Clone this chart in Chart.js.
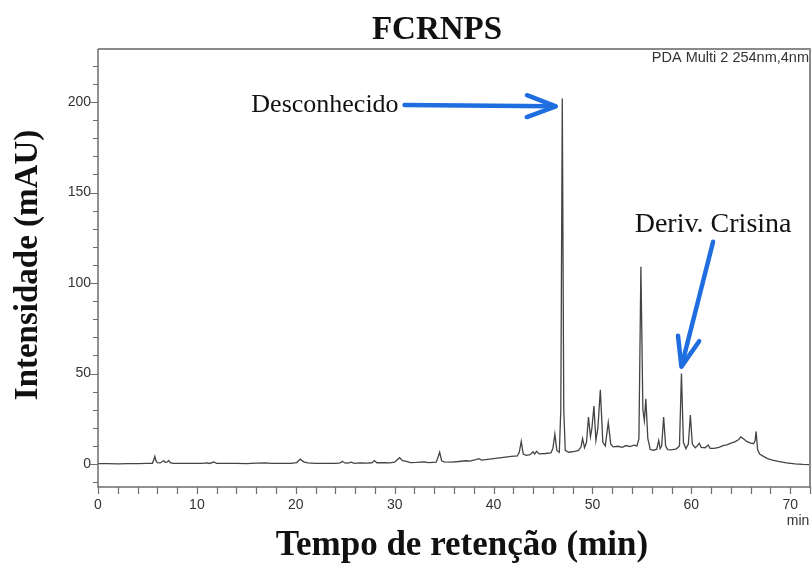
<!DOCTYPE html>
<html>
<head>
<meta charset="utf-8">
<script src="https://cdn.jsdelivr.net/npm/chart.js@4.4.1/dist/chart.umd.min.js"></script>
<style>
html, body { margin: 0; padding: 0; background: #fff; }
</style>
</head>
<body>
<canvas id="chart" width="812" height="568"></canvas>
<script>
// Chromatogram trace: retention time (min) / intensity (mAU)
const retTime = [
  0, 1, 2, 3, 4, 5, 5.5, 5.65, 5.75, 5.85, 6.0, 6.3, 6.5, 6.65, 6.8, 7.0, 7.15, 7.3, 7.6,
  8.5, 9.5, 10.5, 11.0, 11.3, 11.7, 12.0, 13, 14, 15, 16, 17, 17.5, 18.5, 19.5,
  20.1, 20.45, 20.8, 21.2, 22, 23, 24, 24.5, 24.7, 24.95, 25.3, 25.6, 25.9, 26.5, 27.2,
  27.7, 27.95, 28.2, 29, 29.5, 30.0, 30.3, 30.5, 30.8, 31.2, 31.6, 32.2, 33.0, 33.4,
  34.2, 34.4, 34.55, 34.75, 35.0, 35.8, 36.5, 37.2, 37.6, 38.2, 38.5, 38.8, 39.4,
  40.0, 40.6, 41.2, 41.8, 42.4, 42.6, 42.8, 43.0, 43.3, 43.7, 44.0, 44.15, 44.35, 44.6,
  45.2, 45.8, 46.0, 46.2, 46.4, 46.65, 46.8, 46.95, 47.1, 47.25, 47.6, 48.2, 48.6,
  48.85, 49.0, 49.2, 49.4, 49.6, 49.8, 49.95, 50.15, 50.35, 50.55, 50.8, 51.05, 51.3,
  51.6, 51.85, 52.1, 52.6, 53.0, 53.4, 53.8, 54.2, 54.5, 54.7, 54.9, 55.1, 55.25, 55.4,
  55.6, 55.85, 56.2, 56.5, 56.7, 56.85, 57.0, 57.2, 57.4, 57.6, 58.0, 58.5, 58.8, 59.0,
  59.2, 59.45, 59.7, 59.9, 60.1, 60.4, 60.6, 60.8, 61.0, 61.4, 61.7, 61.9, 62.3, 62.8,
  63.2, 63.6, 64.0, 64.4, 64.8, 65.0, 65.3, 65.6, 66.0, 66.3, 66.45, 66.55, 66.7, 66.9,
  67.3, 67.7, 68.2, 68.8, 69.6, 70.5, 71.3, 72
];
const intensity = [
  0.2, 0.2, 0.1, 0.2, 0.2, 0.3, 0.4, 2.5, 4.2, 2.0, 0.8, 0.6, 1.4, 1.8, 0.9, 1.2, 2.0, 0.8, 0.4,
  0.3, 0.4, 0.3, 0.6, 0.3, 1.2, 0.4, 0.3, 0.4, 0.2, 0.5, 0.6, 0.3, 0.4, 0.3,
  0.8, 2.7, 1.2, 0.6, 0.4, 0.3, 0.4, 0.6, 1.5, 0.6, 0.5, 1.0, 0.4, 0.6, 0.5,
  0.7, 1.9, 0.7, 0.8, 0.6, 1.0, 2.5, 3.5, 1.8, 1.4, 0.8, 0.9, 1.2, 0.8,
  1.0, 4.0, 6.5, 1.8, 1.2, 1.0, 1.4, 1.8, 1.6, 2.4, 3.0, 2.2, 2.6,
  3.0, 3.4, 3.8, 4.2, 4.5, 6.5, 12.5, 5.5, 4.8, 5.2, 6.8, 5.5, 7.0, 5.6,
  5.8, 6.2, 8.5, 16.5, 7.5, 6.5, 30, 202, 30, 7.5, 6.5, 7.0, 7.5,
  9.5, 14, 9.0, 12, 26, 15, 20, 32, 13, 20, 41, 12, 10,
  23, 11, 9.5, 9.8, 9.2, 10.2, 9.6, 10.4, 10.0, 14, 109, 30, 24, 36,
  14, 8.0, 7.6, 8.2, 13, 8.5, 10, 26, 10, 8.0, 7.8, 8.4, 10, 50,
  12, 8.5, 11, 27, 11, 9.0, 10, 11.5, 9.2, 9.0, 10.5, 8.6, 8.6, 9.2,
  10.2, 10.6, 11.5, 12.2, 13.5, 15, 13.8, 12.5, 11.5, 11.2, 13, 18, 8, 5.5,
  4.2, 3.0, 2.2, 1.4, 0.6, 0.1, -0.2, -0.3
];

// Axis ticks
const xTickValues = [0, 2, 4, 6, 8, 10, 12, 14, 16, 18, 20, 22, 24, 26, 28, 30, 32, 34,
  36, 38, 40, 42, 44, 46, 48, 50, 52, 54, 56, 58, 60, 62, 64, 66, 68, 70, 72];
const xTickLabels = [0, 10, 20, 30, 40, 50, 60, 70];
const yTickValues = [-10, 0, 10, 20, 30, 40, 50, 60, 70, 80, 90, 100, 110, 120, 130, 140,
  150, 160, 170, 180, 190, 200, 210, 220];
const yTickLabels = [0, 50, 100, 150, 200];

// Annotations (data units: min, mAU)
const peakNames = ['Desconhecido', 'Deriv. Crisina'];
const labelAt = [[30.4, 198], [62.2, 132.5]];
const arrowFrom = [[31.0, 198.3], [62.2, 122.8]];
const arrowTo = [[46.3, 197.6], [59.0, 53.8]];

const AXIS_COLOR = '#6e6e6e';
const FRAME_COLOR = '#8a8a8a';
const ARROW_BLUE = '#1f6ee0';
const SERIF = "'Liberation Serif', 'Times New Roman', serif";
const NARROW = "'Liberation Sans Narrow', 'Arial Narrow', 'Liberation Sans', Arial, sans-serif";

function drawArrow(ctx, x1, y1, x2, y2) {
    const ang = Math.atan2(y2 - y1, x2 - x1);
    const head = 31;
    const spread = 0.36;
    ctx.beginPath();
    ctx.moveTo(x1, y1);
    ctx.lineTo(x2 - Math.cos(ang) * 4, y2 - Math.sin(ang) * 4);
    ctx.stroke();
    ctx.beginPath();
    ctx.moveTo(x2 - head * Math.cos(ang - spread), y2 - head * Math.sin(ang - spread));
    ctx.lineTo(x2, y2);
    ctx.lineTo(x2 - head * Math.cos(ang + spread), y2 - head * Math.sin(ang + spread));
    ctx.stroke();
}

// Axes, tick marks, frame, titles and the blue annotations
const decorPlugin = {
    id: 'decor',
    afterDraw(chart) {
        const { ctx, chartArea: { top, bottom, left, right }, scales: { x, y } } = chart;

        ctx.save();
        // frame top/right
        ctx.strokeStyle = FRAME_COLOR;
        ctx.lineWidth = 2;
        ctx.beginPath();
        ctx.moveTo(left, top);
        ctx.lineTo(right, top);
        ctx.lineTo(right, bottom);
        ctx.stroke();

        // axis lines
        ctx.strokeStyle = AXIS_COLOR;
        ctx.lineWidth = 1.5;
        ctx.beginPath();
        ctx.moveTo(left, top);
        ctx.lineTo(left, bottom);
        ctx.lineTo(right, bottom);
        ctx.stroke();

        // tick marks
        ctx.lineWidth = 1.2;
        ctx.beginPath();
        xTickValues.forEach(v => {
            const px = Math.round(x.getPixelForValue(v)) + 0.5;
            ctx.moveTo(px, bottom);
            ctx.lineTo(px, bottom + 7);
        });
        yTickValues.forEach(v => {
            const py = Math.round(y.getPixelForValue(v)) + 0.5;
            const len = yTickLabels.includes(v) ? 8 : 5;
            ctx.moveTo(left - len, py);
            ctx.lineTo(left, py);
        });
        ctx.stroke();

        // "min" unit under the x axis
        ctx.fillStyle = '#333';
        ctx.font = '14px ' + NARROW;
        ctx.textAlign = 'center';
        ctx.textBaseline = 'middle';
        ctx.fillText('min', 798, 521);

        // detector label
        ctx.font = '14.5px ' + NARROW;
        ctx.textAlign = 'right';
        ctx.fillText('PDA Multi 2 254nm,4nm', right - 1, 58);

        // titles
        ctx.fillStyle = '#111';
        ctx.font = 'bold 33px ' + SERIF;
        ctx.textAlign = 'center';
        ctx.fillText('FCRNPS', 437, 30);
        ctx.font = 'bold 35px ' + SERIF;
        ctx.fillText('Tempo de retenção (min)', 462, 546);
        ctx.save();
        ctx.translate(28, 265);
        ctx.rotate(-Math.PI / 2);
        ctx.font = 'bold 33px ' + SERIF;
        ctx.fillText('Intensidade (mAU)', 0, 0);
        ctx.restore();

        // peak labels
        ctx.fillStyle = '#111';
        peakNames.forEach((name, i) => {
            ctx.font = (i === 0 ? '26px ' : '28px ') + SERIF;
            ctx.textAlign = i === 0 ? 'right' : 'center';
            ctx.fillText(name, x.getPixelForValue(labelAt[i][0]), y.getPixelForValue(labelAt[i][1]));
        });

        // arrows
        ctx.strokeStyle = ARROW_BLUE;
        ctx.lineWidth = 4.5;
        ctx.lineCap = 'round';
        ctx.lineJoin = 'round';
        arrowFrom.forEach((a, i) => {
            const b = arrowTo[i];
            drawArrow(ctx,
                x.getPixelForValue(a[0]), y.getPixelForValue(a[1]),
                x.getPixelForValue(b[0]), y.getPixelForValue(b[1]));
        });
        ctx.restore();
    }
};

const ctx = document.getElementById('chart').getContext('2d');
new Chart(ctx, {
    type: 'line',
    data: {
        datasets: [{
            data: retTime.map((t, i) => ({ x: t, y: intensity[i] })),
            borderColor: '#444',
            borderWidth: 1.3,
            pointRadius: 0,
            tension: 0,
            fill: false
        }]
    },
    options: {
        responsive: false,
        animation: false,
        layout: { padding: { top: 49, right: 2, left: 0, bottom: 0 } },
        plugins: {
            legend: { display: false },
            tooltip: { enabled: false }
        },
        scales: {
            x: {
                type: 'linear',
                min: 0,
                max: 72,
                afterFit: (scale) => {
                    scale.height = 81;
                    scale.paddingLeft = 0;
                    scale.paddingRight = 0;
                },
                afterBuildTicks: (scale) => { scale.ticks = xTickValues.map(v => ({ value: v })); },
                grid: { display: false, drawTicks: false },
                border: { display: false },
                ticks: {
                    autoSkip: false,
                    maxRotation: 0,
                    padding: 10,
                    color: '#333',
                    font: { family: NARROW, size: 14 },
                    callback: (v) => xTickLabels.includes(v) ? String(v) : ''
                }
            },
            y: {
                type: 'linear',
                min: -12.7,
                max: 229.3,
                afterFit: (scale) => {
                    scale.width = 98;
                    scale.paddingTop = 0;
                    scale.paddingBottom = 0;
                },
                afterBuildTicks: (scale) => { scale.ticks = yTickValues.map(v => ({ value: v })); },
                grid: { display: false, drawTicks: false },
                border: { display: false },
                ticks: {
                    autoSkip: false,
                    padding: 7,
                    color: '#333',
                    font: { family: NARROW, size: 14 },
                    callback: (v) => yTickLabels.includes(v) ? String(v) : ''
                }
            }
        }
    },
    plugins: [decorPlugin]
});
</script>
</body>
</html>
